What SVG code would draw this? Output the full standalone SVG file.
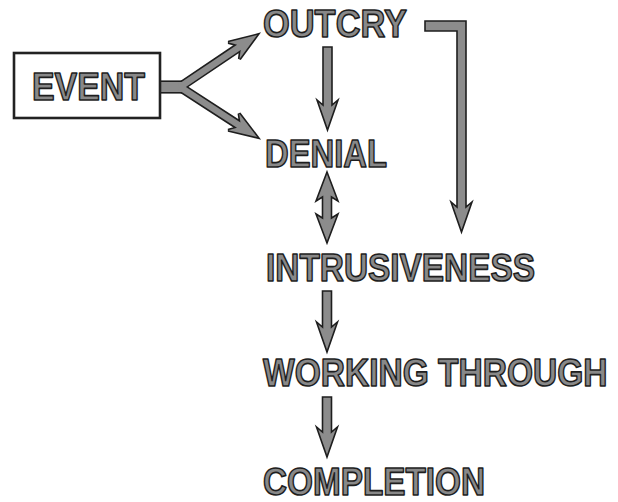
<svg xmlns="http://www.w3.org/2000/svg" xmlns:xlink="http://www.w3.org/1999/xlink" width="618" height="502" viewBox="0 0 618 502">
<defs>
<style>
.lbl{font-family:"Liberation Sans Narrow","Liberation Sans","DejaVu Sans",sans-serif;font-weight:bold;font-size:39px;fill:#888;stroke:#1e1e1e;stroke-width:1.6px;stroke-linejoin:round}
.arr{fill:#8c8c8c;stroke:#1e1e1e;stroke-width:1.6px;stroke-linejoin:miter}
.out{fill:#1e1e1e;stroke:#1e1e1e;stroke-width:3.2px;stroke-linejoin:miter}
.in{fill:#8c8c8c;stroke:none}
.box{fill:#fff;stroke:#222;stroke-width:2.6px}
</style>
<polygon id="diag1" points="0,-3.2 71,-3.2 65,-10 93,0 65,10 71,3.2 0,3.2"/>
<polygon id="diag2" points="0,-3.2 70,-3.2 64,-10 92,0 64,10 70,3.2 0,3.2"/>
<rect id="stem" x="160" y="82" width="24" height="10"/>
</defs>
<rect width="618" height="502" fill="#fff"/>

<g id="connectors">
  <g id="event-split">
    <use xlink:href="#stem" class="out"/>
    <use xlink:href="#diag1" class="out" transform="translate(180,87) rotate(-34)"/>
    <use xlink:href="#diag2" class="out" transform="translate(180,87) rotate(33)"/>
    <use xlink:href="#stem" class="in"/>
    <use xlink:href="#diag1" class="in" transform="translate(180,87) rotate(-34)"/>
    <use xlink:href="#diag2" class="in" transform="translate(180,87) rotate(33)"/>
  </g>
  <polygon id="outcry-intrusiveness" class="arr" points="425,21 466,21 466,207 472,202 461.5,232 451,202 457,207 457,31 425,31"/>
  <polygon id="outcry-denial" class="arr" points="323,47 332,47 332,105 338,100 327.5,130 317,100 323,105"/>
  <polygon id="denial-intrusiveness" class="arr" points="327,172 338,201 331.5,197 331.5,218 338,214 327,243 316,214 322.5,218 322.5,197 316,201"/>
  <polygon id="intrusiveness-working" class="arr" points="322.5,291 331.5,291 331.5,327 337.5,322 327,352 316.5,322 322.5,327"/>
  <polygon id="working-completion" class="arr" points="322.5,397 331.5,397 331.5,432 337.5,427 327,457 316.5,427 322.5,432"/>
</g>

<g id="event">
  <rect class="box" x="14" y="53" width="146" height="65"/>
  <text class="lbl" x="32" y="100" textLength="113" lengthAdjust="spacingAndGlyphs">EVENT</text>
</g>
<g id="outcry">
  <text class="lbl" x="263" y="37" textLength="144" lengthAdjust="spacingAndGlyphs">OUTCRY</text>
</g>
<g id="denial">
  <text class="lbl" x="265" y="167" textLength="122" lengthAdjust="spacingAndGlyphs">DENIAL</text>
</g>
<g id="intrusiveness">
  <text class="lbl" x="266" y="281" textLength="269" lengthAdjust="spacingAndGlyphs">INTRUSIVENESS</text>
</g>
<g id="working-through">
  <text class="lbl" transform="translate(263,386) scale(0.86,1)" x="0" y="0">WORKING THROUGH</text>
</g>
<g id="completion">
  <text class="lbl" x="263" y="495" style="font-size:38px" textLength="222" lengthAdjust="spacingAndGlyphs">COMPLETION</text>
</g>
</svg>
